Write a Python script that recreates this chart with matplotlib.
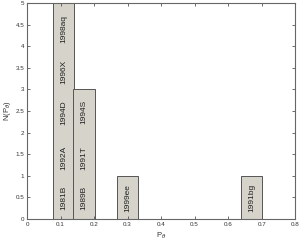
import matplotlib
matplotlib.use('Agg')
import matplotlib.pyplot as plt

# bins of the histogram (centre, count) and the SNe stacked in each bin
bin_centers = [0.11, 0.17, 0.30, 0.67]
bin_counts = [5, 3, 1, 1]
bin_names = [
    ['1981B', '1992A', '1994D', '1996X', '1998aq'],
    ['1989B', '1991T', '1994S'],
    ['1999ee'],
    ['1991bg'],
]
label_pos = [0.48, 1.42, 2.47, 3.40, 4.40]

plt.rcParams['font.family'] = ['Liberation Sans', 'DejaVu Sans']

fig = plt.figure(figsize=(3.0, 2.46), dpi=100)
ax = fig.add_axes([0.09, 0.11, 0.894, 0.878])

ax.bar(bin_centers, bin_counts, width=0.063, color='#d6d3cb',
       edgecolor='#555555', linewidth=0.7)

for x, names in zip(bin_centers, bin_names):
    for i, name in enumerate(names):
        ax.text(x, label_pos[i], name, rotation=90, ha='center', va='center',
                fontsize=6, color='#222222')

ax.set_xlim(0, 0.8)
ax.set_ylim(0, 5)
ax.set_xticks([0, 0.1, 0.2, 0.3, 0.4, 0.5, 0.6, 0.7, 0.8])
ax.set_xticklabels(['0', '0.1', '0.2', '0.3', '0.4', '0.5', '0.6', '0.7', '0.8'])
ax.set_yticks([0, 0.5, 1, 1.5, 2, 2.5, 3, 3.5, 4, 4.5, 5])
ax.set_yticklabels(['0', '0.5', '1', '1.5', '2', '2.5', '3', '3.5', '4', '4.5', '5'])
ax.tick_params(direction='in', length=2.5, width=0.6, labelsize=4.5,
               top=True, right=True, colors='#555555', labelcolor='#333333', pad=2)
for s in ax.spines.values():
    s.set_color('#666666')
    s.set_linewidth(0.8)

ax.set_xlabel(r'P$_\theta$', fontsize=5.5, color='#333333', labelpad=3)
ax.set_ylabel(r'N(P$_\theta$)', fontsize=5.5, color='#333333', labelpad=2)

fig.savefig('out.png', dpi=100)
